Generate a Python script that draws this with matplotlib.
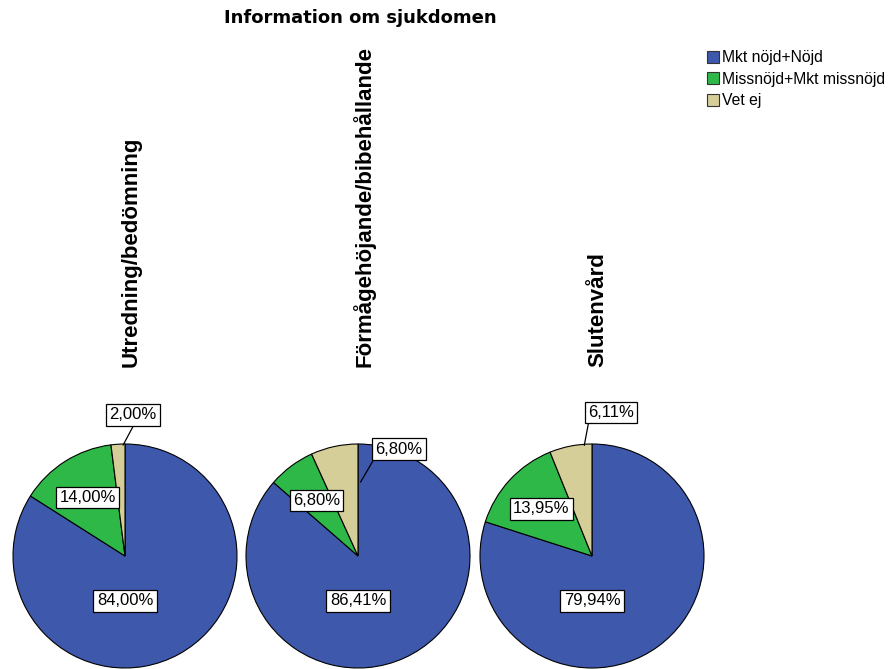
import matplotlib.pyplot as plt
from matplotlib.patches import Patch
import numpy as np

# DATA
categories = ["Utredning/bedömning", "Förmågehöjande/bibehållande", "Slutenvård"]
series = ["Mkt nöjd+Nöjd", "Missnöjd+Mkt missnöjd", "Vet ej"]
noejd = [84.00, 86.41, 79.94]
missnoejd = [14.00, 6.80, 13.95]
vet_ej = [2.00, 6.80, 6.11]

# STYLE
COLORS = ["#3E58AC", "#2EB848", "#D5CE99"]
W, H = 893, 669
CENTERS = [(125, 556), (358, 556), (592, 556)]  # pixel centers of the pies
RADIUS = 112
# "Vet ej" label box position, leader end (angle, radius) and leader start on the box
TAN_TEXT = [(0.07, 1.26), (0.366, 0.955), (0.17, 1.28)]
TAN_ANCHOR = [(91, 0.99), (88, 0.66), (94, 0.99)]
TAN_RELPOS = [(0.55, 0.0), (0.0, 0.0), (0.02, 0.0)]

plt.rcParams["font.family"] = ["Liberation Sans", "DejaVu Sans"]

fig = plt.figure(figsize=(W / 100, H / 100), dpi=100)

box = dict(boxstyle="square,pad=0.2", fc="white", ec="black", lw=0.9)


def fmt(v):
    return f"{v:.2f}%".replace(".", ",")


for i, (cx, cy) in enumerate(CENTERS):
    ax = fig.add_axes([(cx - RADIUS) / W, (H - cy - RADIUS) / H,
                       2 * RADIUS / W, 2 * RADIUS / H])
    vals = [noejd[i], missnoejd[i], vet_ej[i]]
    wedges, _ = ax.pie(vals, colors=COLORS, startangle=90, counterclock=False,
                       radius=1, wedgeprops=dict(edgecolor="black", linewidth=0.8))
    ax.set_xlim(-1, 1)
    ax.set_ylim(-1, 1)
    ax.set_aspect("equal")
    ax.axis("off")

    # big slice label straight below the center
    ax.text(0, -0.4, fmt(vals[0]), ha="center", va="center", fontsize=12, bbox=box)
    # green slice label inside the slice
    w = wedges[1]
    mid = np.deg2rad((w.theta1 + w.theta2) / 2)
    ax.text(0.62 * np.cos(mid), 0.62 * np.sin(mid), fmt(vals[1]),
            ha="center", va="center", fontsize=12, bbox=box)
    # tan slice label with leader line
    ang, r = TAN_ANCHOR[i]
    ang = np.deg2rad(ang)
    ax.annotate(fmt(vals[2]), xy=(r * np.cos(ang), r * np.sin(ang)), xytext=TAN_TEXT[i],
                ha="center", va="center", fontsize=12, bbox=box,
                annotation_clip=False,
                arrowprops=dict(arrowstyle="-", color="black", lw=0.9,
                                shrinkA=0, shrinkB=0, relpos=TAN_RELPOS[i]))

    fig.text((cx + 6) / W, (H - 367) / H, categories[i], rotation=90,
             ha="center", va="bottom", fontsize=16, fontweight="bold")

fig.text(360 / W, 1 - 18 / H, "Information om sjukdomen", ha="center", va="center",
         fontsize=13, fontweight="bold", family="DejaVu Sans")

handles = [Patch(facecolor=c, edgecolor="#333333", linewidth=0.8) for c in COLORS]
fig.legend(handles, series, loc="upper left", bbox_to_anchor=(707 / W, 1 - 50 / H),
           frameon=False, fontsize=11.3, handlelength=0.75, handleheight=0.8,
           handletextpad=0.2, labelspacing=0.42, borderaxespad=0, borderpad=0)

fig.savefig("out.png", dpi=100)
